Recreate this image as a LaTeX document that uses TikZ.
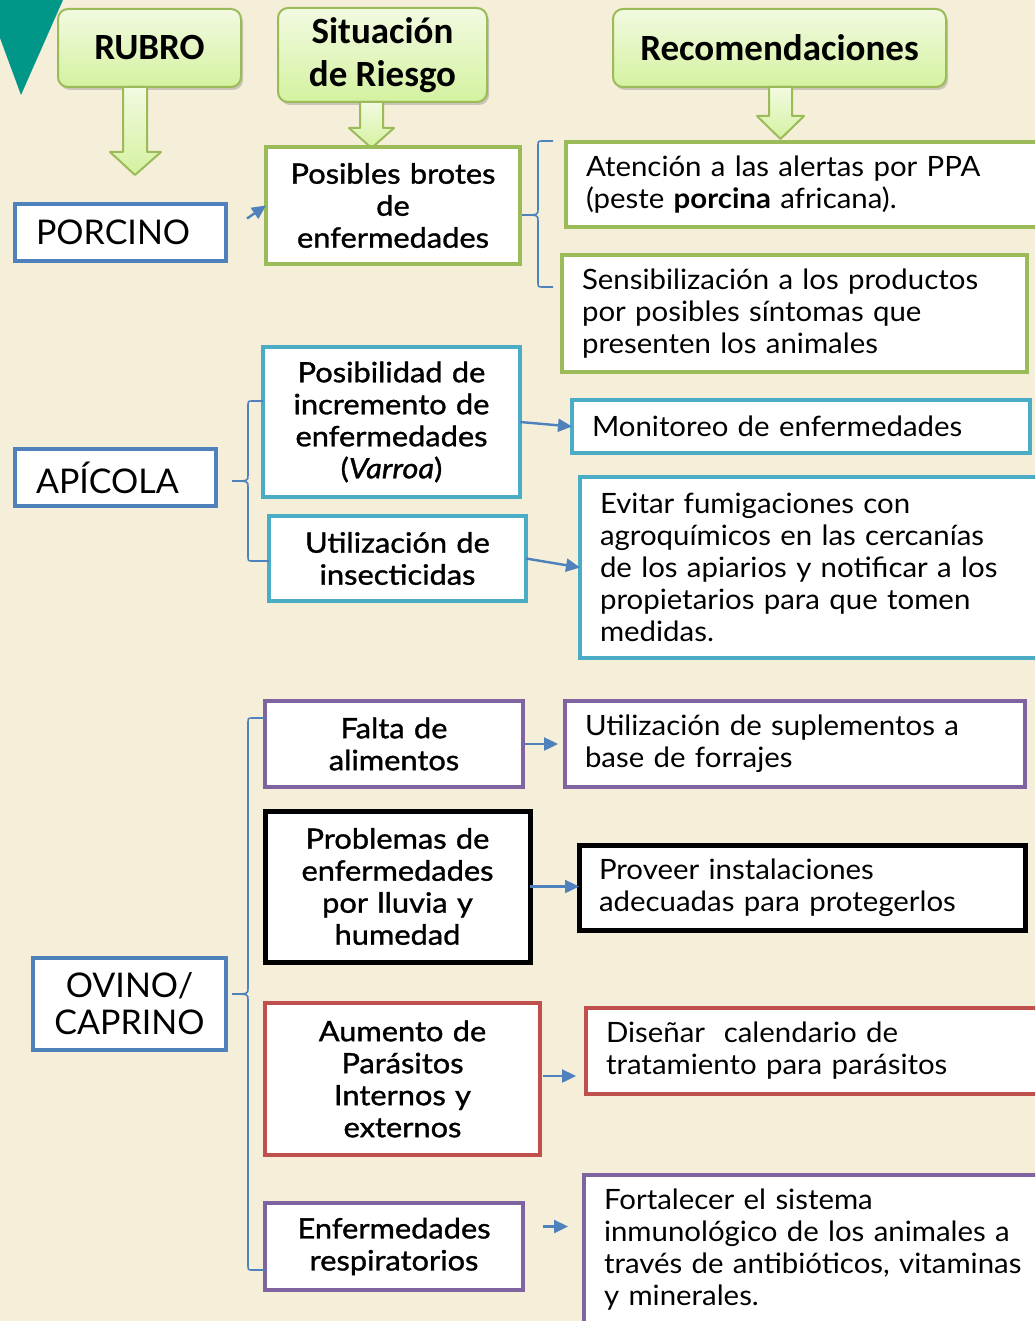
\documentclass[tikz,border=0pt]{standalone}
\usepackage{fontspec}
\setmainfont[FakeStretch=1.05]{Lato}
\newfontfamily\leftfont{Lato}
\newfontfamily\hdfont{Carlito}
\newfontfamily\midfont[FakeBold=1.2,FakeStretch=1.1]{Lato}
\usetikzlibrary{arrows.meta,shadows,calc}
\definecolor{bgc}{RGB}{245,238,217}
\definecolor{tealc}{RGB}{0,150,136}
\definecolor{hgreen}{RGB}{155,187,89}
\definecolor{hlight}{RGB}{242,250,225}
\definecolor{hdark}{RGB}{212,242,160}
\definecolor{cblue}{RGB}{79,129,189}
\definecolor{cgreen}{RGB}{155,187,89}
\definecolor{ccyan}{RGB}{75,172,198}
\definecolor{cpurple}{RGB}{128,100,162}
\definecolor{cred}{RGB}{192,80,77}
\newcommand\bracepath[7]{%
 \draw[brc] (#6,#3) -- ({#1+5},#3) .. controls (#1,#3) .. (#1,{#3+5}) -- (#1,{#4-6}) .. controls (#1,#4) .. (#2,#4) .. controls (#1,#4) .. (#1,{#4+6}) -- (#1,{#5-5}) .. controls (#1,#5) .. ({#1+5},#5) -- (#7,#5);}
\begin{document}
\begin{tikzpicture}[x=1pt,y=-1pt,
  hdr/.style={draw=hgreen, line width=2pt, rounded corners=10pt, top color=hlight, bottom color=hdark,
    drop shadow={shadow xshift=2pt, shadow yshift=-3pt, opacity=0.3, fill=black!60},
    font=\hdfont\bfseries\fontsize{37}{43}\selectfont, align=center, inner sep=0pt, anchor=north west},
  barrow/.style={draw=hgreen, line width=2pt, line join=round, top color=hlight, bottom color=hdark},
  box/.style={draw=#1, fill=white, line width=4pt, anchor=north west, inner ysep=0pt, outer sep=0pt},
  rtext/.style={font=\fontsize{28}{32}\selectfont, align=left, inner xsep=20pt},
  mtext/.style={font=\midfont\fontsize{28}{32}\selectfont, align=center, inner xsep=6pt},
  ltext/.style={font=\leftfont\fontsize{34}{37}\selectfont},
  conn/.style={draw=cblue, line width=2.4pt, -{Triangle[length=14pt,width=13pt]}},
  brc/.style={draw=cblue, line width=1.6pt}]
\useasboundingbox (0,0) rectangle (1035,1321);
\clip (0,0) rectangle (1035,1321);
\fill[bgc] (0,0) rectangle (1035,1321);
\fill[tealc] (0,0) -- (63,0) -- (21,95) -- (0,38) -- cycle;

% headers
\node[hdr, minimum width=183pt, minimum height=78pt] (rub) at (57,8) {RUBRO};
\node[hdr, minimum width=209pt, minimum height=94pt] (sit) at (277,7) {Situación\\de Riesgo};
\node[hdr, minimum width=333pt, minimum height=78pt] (rec) at (612,8) {Recomendaciones};

% block arrows
\draw[barrow] (123,87) -- (147,87) -- (147,152) -- (161,152) -- (135,175) -- (110,152) -- (123,152) -- cycle;
\draw[barrow] (360,102) -- (383,102) -- (383,128) -- (394,128) -- (371.5,148) -- (349,128) -- (360,128) -- cycle;
\draw[barrow] (769,87) -- (792,87) -- (792,116) -- (804,116) -- (780.5,139) -- (757,116) -- (769,116) -- cycle;

% left column
\node[box=cblue, ltext, align=left, text width=169pt, inner xsep=21pt, minimum height=57pt] (por) at (15,204) {PORCINO};
\node[box=cblue, ltext, align=left, text width=159pt, inner xsep=21pt, minimum height=57pt] (api) at (15,449) {APÍCOLA};
\node[box=cblue, ltext, align=center, text width=181pt, inner xsep=6pt, minimum height=92pt] (ovi) at (33,958) {OVINO/\\CAPRINO};

% middle column
\node[box=cgreen, mtext, text width=242pt, minimum height=117pt] (posb) at (266,147) {Posibles brotes\\de\\enfermedades};
\node[box=ccyan, mtext, text width=245pt, minimum height=150pt] (posi) at (263,347) {Posibilidad de\\incremento de\\enfermedades\\(\textit{Varroa})};
\node[box=ccyan, mtext, text width=245pt, minimum height=85pt] (uti) at (269,516) {Utilización de\\insecticidas};
\node[box=cpurple, mtext, text width=246pt, minimum height=86pt] (fal) at (265,701) {Falta de\\alimentos};
\node[box=black, mtext, line width=5pt, text width=253pt, minimum height=151pt] (pro) at (265,811) {Problemas de\\enfermedades\\por lluvia y\\humedad};
\node[box=cred, mtext, text width=263pt, minimum height=152pt] (aum) at (265,1003) {Aumento de\\Parásitos\\Internos y\\externos};
\node[box=cpurple, mtext, text width=246pt, minimum height=87pt] (enf) at (265,1203) {Enfermedades\\respiratorios};

% right column
\node[box=cgreen, rtext, text width=454pt, minimum height=85pt] (ate) at (566,142) {Atención a las alertas por PPA\\(peste \textbf{porcina} africana).};
\node[box=cgreen, rtext, text width=425pt, minimum height=117pt] (sen) at (562,255) {Sensibilización a los productos\\por posibles síntomas que\\presenten los animales};
\node[box=ccyan, rtext, text width=418pt, minimum height=53pt] (mon) at (572,400) {Monitoreo de enfermedades};
\node[box=ccyan, rtext, text width=440pt, minimum height=181pt] (evi) at (580,477) {Evitar fumigaciones con\\agroquímicos en las cercanías\\de los apiarios y notificar a los\\propietarios para que tomen\\medidas.};
\node[box=cpurple, rtext, text width=420pt, minimum height=86pt] (sup) at (565,701) {Utilización de suplementos a\\base de forrajes};
\node[box=black, rtext, line width=5pt, text width=406pt, minimum height=85pt] (prov) at (579,845) {Proveer instalaciones\\adecuadas para protegerlos};
\node[box=cred, rtext, text width=434pt, minimum height=86pt] (dis) at (586,1008) {Diseñar\ \ calendario de\\tratamiento para parásitos};
\node[box=cpurple, rtext, text width=436pt, minimum height=150pt] (fort) at (584,1175) {Fortalecer el sistema\\inmunológico de los animales a\\través de antibióticos, vitaminas\\y minerales.};

% connectors
\draw[conn] ([xshift=21pt,yshift=14pt]por.east) -- (posb.west);
\draw[conn] (posi.east) -- (mon.west);
\draw[conn] (uti.east) -- (evi.west);
\draw[conn, shorten <=2pt, shorten >=7pt] (fal.east) -- (sup.west);
\draw[conn] (pro.east) -- (pro.east -| prov.west);
\draw[conn] ([xshift=3pt,yshift=3pt]aum.east) -- ([xshift=-10pt,yshift=3pt]aum.east -| dis.west);
\draw[conn] ([xshift=20pt,yshift=20pt]enf.east) -- ([xshift=-16pt,yshift=20pt]enf.east -| fort.west);

% braces
\bracepath{538}{522}{141}{215}{287}{553}{553}
\bracepath{248}{232}{401}{481}{561}{263}{269}
\bracepath{248}{232}{718}{994}{1270}{265}{265}
\end{tikzpicture}
\end{document}
